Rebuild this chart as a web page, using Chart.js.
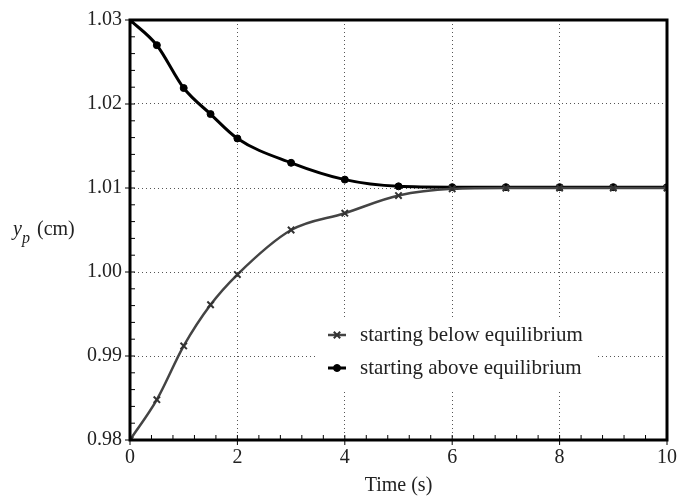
<!DOCTYPE html>
<html lang="en">
<head>
    <meta charset="UTF-8">
    <title>Equilibrium approach</title>
    <script src="https://cdn.jsdelivr.net/npm/chart.js"></script>
    <style>
        body { margin: 0; background: #fff; }
        .wrap { width: 683px; height: 500px; }
    </style>
</head>
<body>
    <div class="wrap"><canvas id="chart" width="683" height="500"></canvas></div>

    <script>
        // data
        const times = [0, 0.5, 1, 1.5, 2, 3, 4, 5, 6, 7, 8, 9, 10];
        const below = [0.98, 0.9848, 0.9912, 0.9961, 0.9997, 1.0050, 1.0070, 1.0091, 1.0099, 1.0100, 1.0100, 1.0100, 1.0100];
        const above = [1.03, 1.0270, 1.0219, 1.0188, 1.0159, 1.0130, 1.0110, 1.0102, 1.0101, 1.0101, 1.0101, 1.0101, 1.0101];
        const seriesNames = ['starting below equilibrium', 'starting above equilibrium'];
        const xTitle = 'Time (s)';

        const serif = '"Liberation Serif", "Times New Roman", serif';

        // frame, minor ticks, y label, legend box
        const decor = {
            id: 'decor',
            afterDatasetsDraw(chart) {
                const ctx = chart.ctx;
                const a = chart.chartArea;
                const xs = chart.scales.x, ys = chart.scales.y;
                ctx.save();

                // minor ticks (inside) and major ticks (outside)
                ctx.strokeStyle = '#000';
                ctx.lineWidth = 1;
                for (let v = 0; v <= 10.001; v += 0.4) {
                    const px = xs.getPixelForValue(v);
                    ctx.beginPath();
                    ctx.moveTo(px, a.bottom);
                    ctx.lineTo(px, a.bottom - 5);
                    ctx.stroke();
                }
                for (let v = 0; v <= 10.001; v += 2) {
                    const px = xs.getPixelForValue(v);
                    ctx.beginPath();
                    ctx.moveTo(px, a.bottom);
                    ctx.lineTo(px, a.bottom + 5);
                    ctx.stroke();
                }
                for (let v = 0.98; v <= 1.0301; v += 0.002) {
                    const py = ys.getPixelForValue(v);
                    ctx.beginPath();
                    ctx.moveTo(a.left, py);
                    ctx.lineTo(a.left + 5, py);
                    ctx.stroke();
                }
                for (let v = 0.98; v <= 1.0301; v += 0.01) {
                    const py = ys.getPixelForValue(v);
                    ctx.beginPath();
                    ctx.moveTo(a.left - 5, py);
                    ctx.lineTo(a.left, py);
                    ctx.stroke();
                }

                // heavy frame
                ctx.lineWidth = 3;
                ctx.strokeRect(a.left, a.top, a.right - a.left, a.bottom - a.top);

                // y label: y_p (cm)
                ctx.fillStyle = '#222';
                ctx.textBaseline = 'alphabetic';
                ctx.font = 'italic 20px ' + serif;
                ctx.fillText('y', 13, 235);
                ctx.font = 'italic 16px ' + serif;
                ctx.fillText('p', 22, 243);
                ctx.font = '20px ' + serif;
                ctx.fillText('(cm)', 37, 235);

                // legend
                ctx.fillStyle = '#fff';
                ctx.fillRect(318, 318, 278, 74);
                const items = [
                    { name: seriesNames[0], ds: chart.data.datasets[0], y: 335 },
                    { name: seriesNames[1], ds: chart.data.datasets[1], y: 368 }
                ];
                items.forEach(it => {
                    ctx.strokeStyle = it.ds.borderColor;
                    ctx.fillStyle = it.ds.pointBackgroundColor || '#fff';
                    ctx.lineWidth = it.ds.borderWidth;
                    ctx.beginPath();
                    ctx.moveTo(328, it.y);
                    ctx.lineTo(346, it.y);
                    ctx.stroke();
                    ctx.strokeStyle = it.ds.pointBorderColor;
                    ctx.lineWidth = it.ds.pointBorderWidth;
                    Chart.helpers.drawPoint(ctx, {
                        pointStyle: it.ds.pointStyle,
                        radius: it.ds.pointRadius,
                        borderWidth: it.ds.pointBorderWidth,
                        rotation: 0
                    }, 337, it.y);
                    ctx.fillStyle = '#222';
                    ctx.font = '21px ' + serif;
                    ctx.textBaseline = 'middle';
                    ctx.fillText(it.name, 360, it.y);
                });
                ctx.restore();
            }
        };

        Chart.register(decor);

        new Chart(document.getElementById('chart').getContext('2d'), {
            type: 'line',
            data: {
                datasets: [{
                    label: seriesNames[0],
                    data: times.map((t, i) => ({ x: t, y: below[i] })),
                    borderColor: '#444',
                    backgroundColor: '#fff',
                    borderWidth: 2.5,
                    pointStyle: 'crossRot',
                    pointRadius: 4.5,
                    pointBorderColor: '#333',
                    pointBackgroundColor: '#fff',
                    pointBorderWidth: 2,
                    cubicInterpolationMode: 'monotone',
                    fill: false
                }, {
                    label: seriesNames[1],
                    data: times.map((t, i) => ({ x: t, y: above[i] })),
                    borderColor: '#000',
                    backgroundColor: '#000',
                    borderWidth: 3,
                    pointStyle: 'circle',
                    pointRadius: 3.5,
                    pointBorderColor: '#000',
                    pointBackgroundColor: '#000',
                    pointBorderWidth: 1,
                    cubicInterpolationMode: 'monotone',
                    fill: false
                }]
            },
            options: {
                responsive: false,
                animation: false,
                layout: { padding: { top: 19, right: 14, left: 0, bottom: 0 } },
                plugins: { legend: { display: false }, tooltip: { enabled: false } },
                scales: {
                    x: {
                        type: 'linear',
                        min: 0,
                        max: 10,
                        ticks: {
                            stepSize: 2,
                            color: '#222',
                            font: { family: serif, size: 20 },
                            padding: 6
                        },
                        grid: { color: '#555', drawTicks: false, tickLength: 0 },
                        border: { display: false, dash: [1, 3] },
                        title: {
                            display: true,
                            text: xTitle,
                            color: '#222',
                            font: { family: serif, size: 20 },
                            padding: { top: 0, bottom: 2 }
                        },
                        afterFit: s => { s.height = 60; }
                    },
                    y: {
                        min: 0.98,
                        max: 1.03,
                        ticks: {
                            stepSize: 0.01,
                            color: '#222',
                            font: { family: serif, size: 20 },
                            padding: 8,
                            callback: v => v.toFixed(2)
                        },
                        grid: { color: '#555', drawTicks: false, tickLength: 0 },
                        border: { display: false, dash: [1, 3] },
                        afterFit: s => { s.width = 130; }
                    }
                }
            }
        });
    </script>
</body>
</html>
